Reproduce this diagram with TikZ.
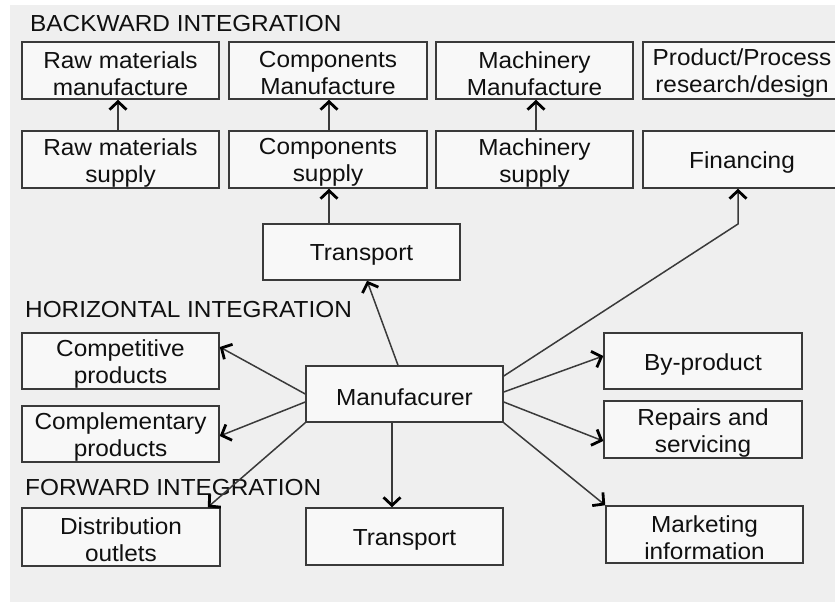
\documentclass[tikz,border=0pt]{standalone}
\usepackage{fontspec}
\setmainfont{Liberation Sans}[FakeStretch=1.05]
\usetikzlibrary{arrows.meta,calc}
\definecolor{bgcol}{HTML}{EFEFEF}
\definecolor{boxfill}{HTML}{F8F8F8}
\definecolor{linecol}{HTML}{3A3A3A}
\definecolor{txtcol}{HTML}{101010}
\tikzset{
  box/.style={draw=linecol, fill=boxfill, line width=1.5pt, rectangle, inner sep=0pt,
    minimum width=197pt, minimum height=57pt},
  boxtxt/.style={inner sep=0pt, align=center, text=txtcol, yshift=-3pt,
    font=\fontsize{23.2}{27}\selectfont},
  lbl/.style={anchor=base west, inner sep=0pt, text=txtcol, font=\fontsize{23.2}{27}\selectfont},
  conn/.style={draw=linecol, line width=1.5pt, -{Straight Barb[length=8pt,width=17pt,line width=2.8pt,color=black]}}
}
\newcommand\bxnode[4][]{\node[box,#1,label={[boxtxt]center:{#4}}] (#2) at #3 {};}
\begin{document}
\begin{tikzpicture}[x=1pt,y=-1pt]
\useasboundingbox (0,0) rectangle (835,602);
\fill[bgcol] (10,5) rectangle (835,602);
% labels
\node[lbl] (lback) at (30,32) {BACKWARD INTEGRATION};
\node[lbl] (lhor) at (25,317) {HORIZONTAL INTEGRATION};
% row 1
\bxnode{rawman}{(120.5,70.5)}{Raw materials\\manufacture}
\bxnode[minimum width=198pt]{compman}{(328,70.5)}{Components\\Manufacture}
\bxnode{machman}{(534.5,70.5)}{Machinery\\Manufacture}
\bxnode[minimum width=198pt]{prodres}{(742,70.5)}{Product/Process\\research/design}
% row 2
\bxnode{rawsup}{(120.5,159.5)}{Raw materials\\supply}
\bxnode[minimum width=198pt]{compsup}{(328,159.5)}{Components\\supply}
\bxnode{machsup}{(534.5,159.5)}{Machinery\\supply}
\bxnode[minimum width=198pt]{fin}{(742,159.5)}{Financing}
% middle
\bxnode[minimum height=56pt]{trtop}{(361.5,252)}{Transport}
\bxnode[minimum height=56pt]{manuf}{(404.5,394)}{Manufacurer}
\bxnode[minimum height=56pt]{comp}{(120.5,361)}{Competitive\\products}
\bxnode[minimum height=56pt]{compl}{(120.5,434)}{Complementary\\products}
\bxnode[minimum width=198pt, minimum height=56pt]{byp}{(703,361)}{By-product}
\bxnode[minimum width=198pt]{rep}{(703,429.5)}{Repairs and\\servicing}
% bottom
\bxnode[minimum width=198pt, minimum height=58pt]{dist}{(121,537)}{Distribution\\outlets}
\bxnode{trbot}{(404.5,536.5)}{Transport}
\bxnode{mkt}{(704.5,534.5)}{Marketing\\information}
\node[lbl] (lfwd) at (25,495) {FORWARD INTEGRATION};
% connectors
\draw[conn] ([xshift=-2.5pt]rawsup.north) -- ([xshift=-2.5pt]rawman.south);
\draw[conn] ([xshift=1pt]compsup.north) -- ([xshift=1pt]compman.south);
\draw[conn] ([xshift=1.5pt]machsup.north) -- ([xshift=1.5pt]machman.south);
\draw[conn] ([xshift=1pt]trtop.north -| compsup.south) -- ([xshift=1pt]compsup.south);
\draw[conn] ([xshift=-6.5pt]manuf.north) -- ([xshift=5.5pt]trtop.south);
\coordinate (finbend) at (738,224);
\draw[conn] ([yshift=18pt]manuf.east) -- (finbend) -- ([xshift=-4pt]fin.south);
\draw[conn] (manuf.west) -- ([yshift=14pt]comp.east);
\draw[conn] ([yshift=-8pt]manuf.west) -- ([yshift=-2pt]compl.east);
\draw[conn] (manuf.south west) -- ([xshift=-13pt]dist.north east);
\draw[conn] ([xshift=-12.5pt]manuf.south) -- ([xshift=-12.5pt]trbot.north);
\draw[conn] ([yshift=2pt]manuf.east) -- ([yshift=5pt]byp.west);
\draw[conn] ([yshift=-8pt]manuf.east) -- ([yshift=-11.5pt]rep.west);
\draw[conn] (manuf.south east) -- (mkt.north west);
\end{tikzpicture}
\end{document}
